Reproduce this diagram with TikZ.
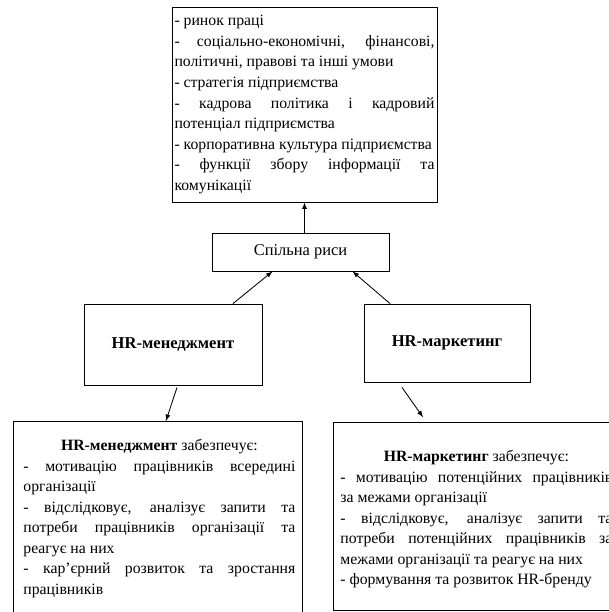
\documentclass[tikz,border=0pt]{standalone}
\usepackage{fontspec}
\setmainfont{Liberation Serif}
\exhyphenpenalty=10000
\hyphenpenalty=10000
\begin{document}
\begin{tikzpicture}[>=latex, line width=0.6pt,
	box/.style={draw, align=center, inner sep=0pt},
	frame/.style={draw, inner sep=0pt, anchor=north west},
	listtext/.style={text width=6.8cm, align=justify, inner sep=0pt, anchor=north west, font=\fontsize{11.2}{14.6}\selectfont}]
	\useasboundingbox (0,0) rectangle (15.2,15.3);
	\node[box, listtext, anchor=center, text width=6.5cm, inner xsep=0.0625cm, minimum height=4.875cm] (umovy) at (7.6125,12.6875) {- ринок праці\par
		- соціально-економічні, фінансові,\linebreak політичні, правові та інші умови\par
		- стратегія підприємства\par
		- кадрова політика і кадровий\linebreak потенціал підприємства\par
		- корпоративна культура підприємства\par
		- функції збору інформації та\linebreak комунікації};
	\node[box, minimum width=4.425cm, minimum height=0.95cm, font=\fontsize{11.7}{13}\selectfont] (spil) at (7.5125,9) {Спільна риси};
	\node[box, minimum width=4.45cm, minimum height=2.025cm, font=\fontsize{11.8}{14}\selectfont\bfseries] (men) at (4.325,6.6875) {HR-менеджмент};
	\node[box, minimum width=4.15cm, minimum height=1.95cm, font=\fontsize{11.8}{14}\selectfont\bfseries] (mar) at (11.175,6.725) {HR-маркетинг};
	\node[frame, minimum width=7.225cm, minimum height=5.475cm] (menframe) at (0.325,4.775) {};
	\node[frame, minimum width=7.25cm, minimum height=4.7cm] (marframe) at (8.325,4.75) {};
	\node[listtext] (mentext) at ([xshift=0.25cm,yshift=-0.45cm]menframe.north west) {{\centering\textbf{HR-менеджмент} забезпечує:\par}
		- мотивацію працівників всередині\linebreak організації\par
		- відслідковує, аналізує запити та\linebreak потреби працівників організації та\linebreak реагує на них\par
		- кар’єрний розвиток та зростання\linebreak працівників};
	\node[listtext] (martext) at ([xshift=0.175cm,yshift=-0.7cm]marframe.north west) {{\centering\textbf{HR-маркетинг} забезпечує:\par}
		- мотивацію потенційних працівників\linebreak за межами організації\par
		- відслідковує, аналізує запити та\linebreak потреби потенційних працівників за\linebreak межами організації та реагує на них\par
		- формування та розвиток HR-бренду};
	\draw[->] (spil.north -| umovy.south) -- (umovy.south);
	\draw[->] ([xshift=1.5cm]men.north) -- ([xshift=-0.7cm]spil.south);
	\draw[->] ([xshift=-1.425cm]mar.north) -- ([xshift=1.3cm]spil.south);
	\draw[->] ([xshift=0.1cm,yshift=-0.05cm]men.south) -- ([xshift=0.2cm]menframe.north);
	\draw[->] ([xshift=-1.125cm,yshift=-0.125cm]mar.south) -- ([xshift=2.25cm,yshift=0.12cm]marframe.north west);
\end{tikzpicture}
\end{document}
